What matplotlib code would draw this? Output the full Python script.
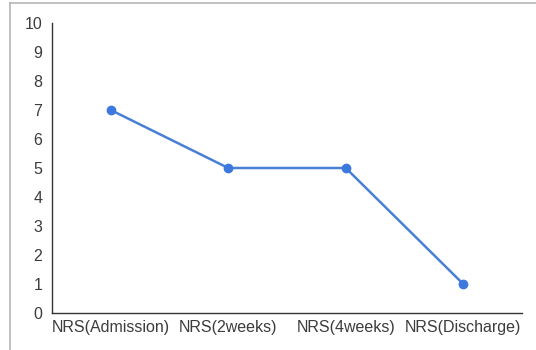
import matplotlib
matplotlib.use("Agg")
import matplotlib.pyplot as plt
from matplotlib.lines import Line2D

categories = ["NRS(Admission)", "NRS(2weeks)", "NRS(4weeks)", "NRS(Discharge)"]
nrs_values = [7, 5, 5, 1]
y_ticks = list(range(0, 11))

plt.rcParams["font.family"] = ["Liberation Sans", "DejaVu Sans"]

W, H = 536, 350
fig = plt.figure(figsize=(W / 100, H / 100), dpi=100)
fig.patch.set_facecolor("white")

ax = fig.add_axes([52 / W, 37 / H, (522 - 52) / W, (313 - 23) / H])
x = list(range(len(categories)))
ax.plot(x, nrs_values, color="#4a7fd6", linewidth=1.8, marker="o",
        markersize=6, markerfacecolor="#3d78de", markeredgecolor="#3d78de",
        solid_capstyle="round")

ax.set_xlim(-0.5, len(categories) - 0.5)
ax.set_ylim(0, 10)
ax.set_xticks(x)
ax.set_xticklabels(categories)
ax.set_yticks(y_ticks)
ax.tick_params(axis="both", length=0, labelsize=11.5, colors="#3c3c3c")
ax.tick_params(axis="y", pad=7)
ax.tick_params(axis="x", pad=5)
for side in ("top", "right"):
    ax.spines[side].set_visible(False)
for side in ("left", "bottom"):
    ax.spines[side].set_color("#333333")
    ax.spines[side].set_linewidth(1.0)

# outer frame lines (top and left)
fig.add_artist(Line2D([10 / W, 1.0], [1 - 3 / H, 1 - 3 / H],
                      transform=fig.transFigure, color="#b5b5b5", linewidth=1.2))
fig.add_artist(Line2D([10 / W, 10 / W], [0, 1 - 3 / H],
                      transform=fig.transFigure, color="#b5b5b5", linewidth=1.2))

fig.savefig("out.png", dpi=100, facecolor="white")
